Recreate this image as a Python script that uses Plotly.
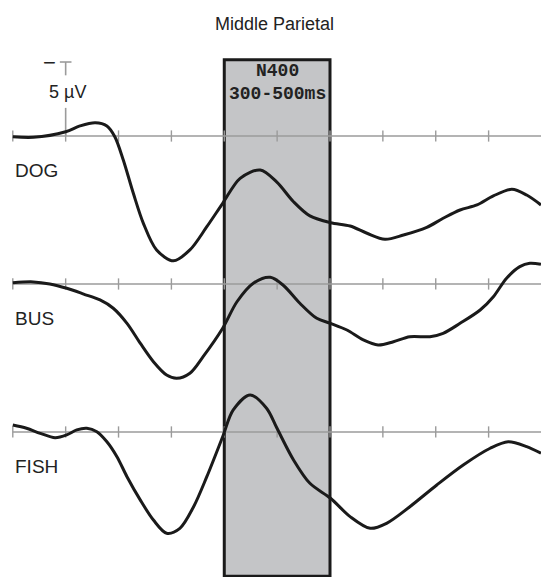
import plotly.graph_objects as go

# Time axis (ms) and grand-average amplitudes (µV, negative plotted up)
dog_ms = [-100, -61, 0, 27, 56, 78, 93, 109, 128, 147, 172, 204, 235, 267, 297, 330,
          368, 399, 431, 462, 501, 538, 570, 604, 639, 683, 714, 746, 778, 809, 844, 872, 899]
dog_uv = [0.05, 0.09, -0.29, -0.68, -0.9, -0.68, 0.05, 1.62, 3.87, 5.9, 7.7, 8.43, 7.7,
          6.13, 4.55, 2.86, 2.3, 3.1, 4.44, 5.4, 5.86, 6.08, 6.57, 6.98, 6.69, 6.17,
          5.56, 5.0, 4.66, 4.05, 3.6, 3.99, 4.66]

bus_ms = [-100, -61, -30, 2, 34, 65, 90, 116, 141, 166, 191, 210, 235, 260, 297, 324,
          355, 387, 412, 443, 475, 501, 532, 563, 591, 620, 651, 689, 714, 746,
          784, 809, 834, 859, 878, 899]
bus_uv = [-0.09, -0.14, 0.0, 0.29, 0.68, 1.08, 1.64, 2.66, 4.0, 5.25, 6.15, 6.37, 6.03,
          4.91, 2.99, 1.2, -0.05, -0.45, 0.1, 1.3, 2.32, 2.66, 3.11, 3.78, 4.12,
          3.9, 3.56, 3.56, 3.33, 2.66, 1.76, 0.86, -0.39, -1.17, -1.4, -1.33]

fish_ms = [-100, -74, -48, -20, 2, 21, 40, 59, 78, 97, 116, 141, 166, 191, 216, 242,
           267, 297, 317, 349, 380, 399, 431, 462, 501, 538, 576, 607, 651, 702,
           752, 803, 837, 872, 899]
fish_uv = [-0.47, -0.25, 0.09, 0.39, 0.2, -0.14, -0.25, -0.02, 0.66, 1.67, 3.02, 4.59,
           5.95, 6.84, 6.51, 5.05, 3.02, 0.32, -1.49, -2.5, -1.6, -0.3, 1.89,
           3.47, 4.48, 5.72, 6.51, 6.17, 5.05, 3.58, 2.23, 1.1, 0.66, 0.99, 1.44]

conditions = ["DOG", "BUS", "FISH"]
channel_offsets = [0, 10, 20]          # vertical stacking of the three waveforms (µV)
tick_ms = [-100, 0, 100, 200, 300, 400, 500, 600, 700, 800]
window_ms = [300, 500]                 # N400 analysis window
scale_uv = 5                           # calibration bar

X_RANGE = [-124.2, 899.1]
Y_RANGE = [29.8, -9.19]                # reversed: negative up
AXIS_GREY = "#9b9b9b"

fig = go.Figure()
shapes = []

# N400 window
shapes.append(dict(type="rect", xref="x", yref="y", layer="below",
                   x0=window_ms[0], x1=window_ms[1], y0=-5.15, y1=29.75,
                   fillcolor="#c4c5c7", line=dict(color="#1a1a1a", width=3)))

# Baselines with 100 ms ticks
for off in channel_offsets:
    shapes.append(dict(type="line", xref="x", yref="y", layer="below",
                       x0=tick_ms[0], x1=X_RANGE[1], y0=off, y1=off,
                       line=dict(color=AXIS_GREY, width=1.6)))
    for t in tick_ms:
        shapes.append(dict(type="line", xref="x", yref="y", layer="below",
                           x0=t, x1=t, y0=off - 0.38, y1=off + 0.38,
                           line=dict(color=AXIS_GREY, width=1.4)))

# Calibration bar (5 µV, negative up) at stimulus onset
shapes.append(dict(type="line", xref="x", yref="y", layer="below",
                   x0=0, x1=0, y0=-scale_uv, y1=-4.1,
                   line=dict(color=AXIS_GREY, width=1.6)))
shapes.append(dict(type="line", xref="x", yref="y", layer="below",
                   x0=0, x1=0, y0=-1.9, y1=0,
                   line=dict(color=AXIS_GREY, width=1.6)))
shapes.append(dict(type="line", xref="x", yref="y", layer="below",
                   x0=-11, x1=11, y0=-scale_uv, y1=-scale_uv,
                   line=dict(color=AXIS_GREY, width=1.6)))

series = [(dog_ms, dog_uv), (bus_ms, bus_uv), (fish_ms, fish_uv)]
for name, off, (ms, uv) in zip(conditions, channel_offsets, series):
    fig.add_trace(go.Scatter(
        x=ms, y=[v + off for v in uv], mode="lines", name=name,
        line=dict(color="#1a1a1a", width=3, shape="spline", smoothing=0.9),
        showlegend=False, hoverinfo="skip"))

annotations = []
for name, off in zip(conditions, channel_offsets):
    annotations.append(dict(x=-99, y=off + 2.3, xref="x", yref="y", text=name,
                            showarrow=False, xanchor="left", yanchor="middle",
                            font=dict(family="Liberation Sans, Arial", size=19, color="#222")))

annotations.append(dict(x=-31, y=-5.0, xref="x", yref="y", text="\u2212",
                        showarrow=False, xanchor="center", yanchor="middle",
                        font=dict(family="Liberation Sans, Arial", size=22, color="#222")))
annotations.append(dict(x=3, y=-2.95, xref="x", yref="y", text=f"{scale_uv} \u00b5V",
                        showarrow=False, xanchor="center", yanchor="middle",
                        font=dict(family="Liberation Sans, Arial", size=18, color="#222")))

# Window label: two lines in one text block
mid = (window_ms[0] + window_ms[1]) / 2
annotations.append(dict(x=mid, y=-3.62, xref="x", yref="y",
                        text=f"<b>N400</b><br><b>{window_ms[0]}-{window_ms[1]}ms</b>",
                        showarrow=False, xanchor="center", yanchor="middle", align="center",
                        font=dict(family="Liberation Mono, monospace", size=18, color="#222")))

annotations.append(dict(x=0.508, y=1 - 24 / 577, xref="paper", yref="paper",
                        text="Middle Parietal", showarrow=False,
                        xanchor="center", yanchor="middle",
                        font=dict(family="Liberation Sans, Arial", size=18, color="#222")))

fig.update_layout(
    width=541, height=577,
    margin=dict(l=0, r=0, t=0, b=0),
    paper_bgcolor="white", plot_bgcolor="white",
    xaxis=dict(range=X_RANGE, visible=False, fixedrange=True),
    yaxis=dict(range=Y_RANGE, visible=False, fixedrange=True),
    shapes=shapes, annotations=annotations,
)

fig.write_html("out.html")
